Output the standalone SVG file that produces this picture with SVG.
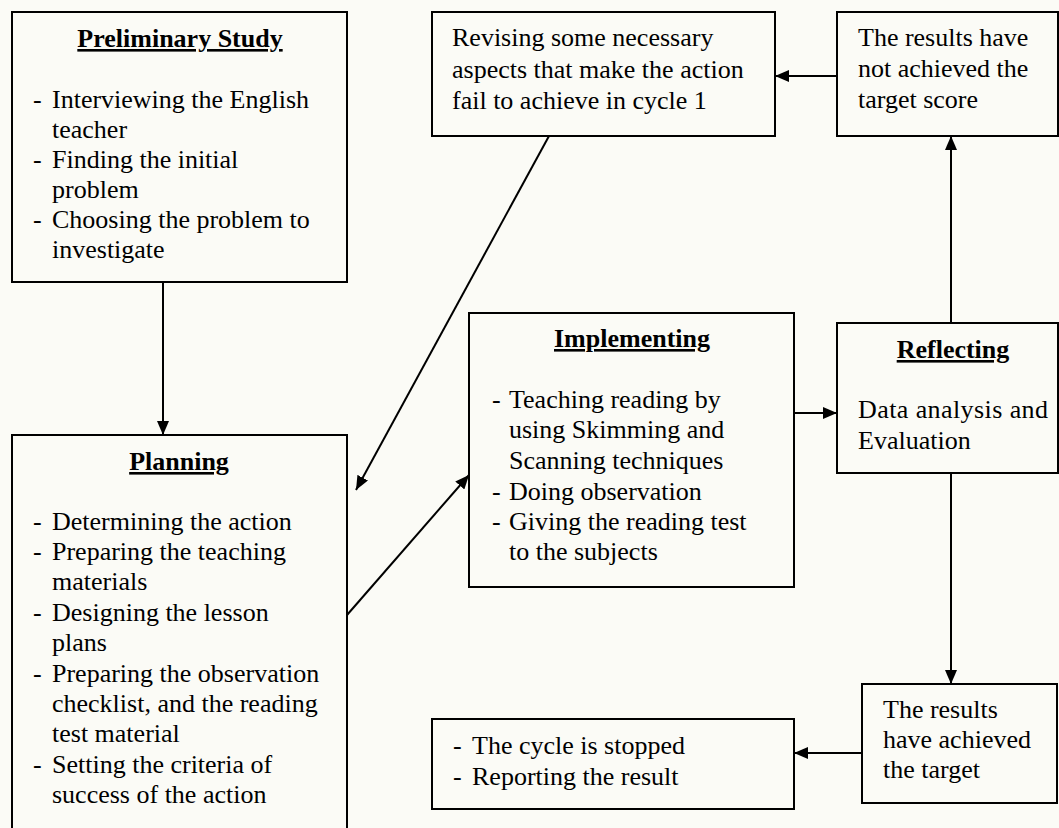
<svg xmlns="http://www.w3.org/2000/svg" width="1059" height="828" viewBox="0 0 1059 828">
<defs>
<style>
.box{fill:none;stroke:#000;stroke-width:2}
.t{font-family:"Liberation Serif","Times New Roman",serif;font-size:26px;fill:#000}
.h{font-family:"Liberation Serif","Times New Roman",serif;font-size:26px;font-weight:bold;fill:#000;text-anchor:middle;text-decoration:underline}
.c{fill:none;stroke:#000;stroke-width:2}
</style>
<marker id="ah" viewBox="0 0 14 12" refX="14" refY="6" markerWidth="14" markerHeight="12" markerUnits="userSpaceOnUse" orient="auto">
<path d="M0,0 L14,6 L0,12 Z" fill="#000"/>
</marker>
</defs>
<rect x="0" y="0" width="1059" height="828" fill="#fbfbf6"/>

<g id="preliminary">
<rect class="box" x="12" y="12" width="335" height="270"/>
<text class="h" x="180" y="47">Preliminary Study</text>
<text class="t" x="33" y="108">-</text><text class="t" x="52" y="108">Interviewing the English</text>
<text class="t" x="52" y="138">teacher</text>
<text class="t" x="33" y="168">-</text><text class="t" x="52" y="168">Finding the initial</text>
<text class="t" x="52" y="198">problem</text>
<text class="t" x="33" y="228">-</text><text class="t" x="52" y="228">Choosing the problem to</text>
<text class="t" x="52" y="258">investigate</text>
</g>

<g id="planning">
<rect class="box" x="12" y="435" width="335" height="410"/>
<text class="h" x="179" y="470">Planning</text>
<text class="t" x="33" y="530">-</text><text class="t" x="52" y="530">Determining the action</text>
<text class="t" x="33" y="560">-</text><text class="t" x="52" y="560">Preparing the teaching</text>
<text class="t" x="52" y="590">materials</text>
<text class="t" x="33" y="621">-</text><text class="t" x="52" y="621">Designing the lesson</text>
<text class="t" x="52" y="651">plans</text>
<text class="t" x="33" y="682">-</text><text class="t" x="52" y="682">Preparing the observation</text>
<text class="t" x="52" y="712">checklist, and the reading</text>
<text class="t" x="52" y="742">test material</text>
<text class="t" x="33" y="773">-</text><text class="t" x="52" y="773">Setting the criteria of</text>
<text class="t" x="52" y="803">success of the action</text>
</g>

<g id="revising">
<rect class="box" x="432" y="12" width="343" height="124"/>
<text class="t" x="452" y="46">Revising some necessary</text>
<text class="t" x="452" y="78">aspects that make the action</text>
<text class="t" x="452" y="109">fail to achieve in cycle 1</text>
</g>

<g id="not-achieved">
<rect class="box" x="837" y="12" width="221" height="124"/>
<text class="t" x="858" y="46">The results have</text>
<text class="t" x="858" y="77">not achieved the</text>
<text class="t" x="858" y="108">target score</text>
</g>

<g id="implementing">
<rect class="box" x="469" y="313" width="325" height="274"/>
<text class="h" x="632" y="347">Implementing</text>
<text class="t" x="492" y="408">-</text><text class="t" x="509" y="408">Teaching reading by</text>
<text class="t" x="509" y="438">using Skimming and</text>
<text class="t" x="509" y="469">Scanning techniques</text>
<text class="t" x="492" y="500">-</text><text class="t" x="509" y="500">Doing observation</text>
<text class="t" x="492" y="530">-</text><text class="t" x="509" y="530">Giving the reading test</text>
<text class="t" x="509" y="560">to the subjects</text>
</g>

<g id="reflecting">
<rect class="box" x="837" y="323" width="221" height="150"/>
<text class="h" x="953" y="358">Reflecting</text>
<text class="t" x="858" y="418" textLength="190" lengthAdjust="spacing">Data analysis and</text>
<text class="t" x="858" y="449">Evaluation</text>
</g>

<g id="achieved">
<rect class="box" x="862" y="684" width="195" height="119"/>
<text class="t" x="883" y="718">The results</text>
<text class="t" x="883" y="748">have achieved</text>
<text class="t" x="883" y="778">the target</text>
</g>

<g id="stopped">
<rect class="box" x="432" y="719" width="362" height="90"/>
<text class="t" x="453" y="754">-</text><text class="t" x="472" y="754">The cycle is stopped</text>
<text class="t" x="453" y="785">-</text><text class="t" x="472" y="785">Reporting the result</text>
</g>

<g id="connectors">
<line class="c" x1="163" y1="282" x2="163" y2="435" marker-end="url(#ah)"/>
<line class="c" x1="549" y1="136" x2="356" y2="490" marker-end="url(#ah)"/>
<line class="c" x1="347" y1="615" x2="469" y2="475" marker-end="url(#ah)"/>
<line class="c" x1="794" y1="413" x2="837" y2="413" marker-end="url(#ah)"/>
<line class="c" x1="951" y1="323" x2="951" y2="136" marker-end="url(#ah)"/>
<line class="c" x1="837" y1="76" x2="775" y2="76" marker-end="url(#ah)"/>
<line class="c" x1="951" y1="473" x2="951" y2="684" marker-end="url(#ah)"/>
<line class="c" x1="862" y1="753" x2="794" y2="753" marker-end="url(#ah)"/>
</g>
</svg>
